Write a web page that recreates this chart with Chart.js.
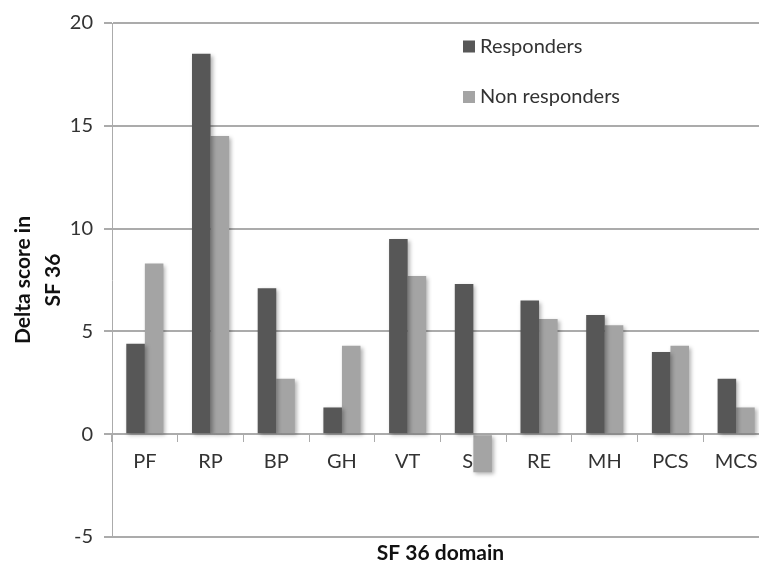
<!DOCTYPE html>
<html>
<head>
<meta charset="utf-8">
<script src="https://cdn.jsdelivr.net/npm/chart.js@4.4.1/dist/chart.umd.min.js"></script>
<style>
  html, body { margin: 0; padding: 0; background: #fff; overflow: hidden; }
  #wrap { width: 759px; height: 566px; position: relative; overflow: hidden; }
</style>
</head>
<body>
<div id="wrap"><canvas id="c" width="770" height="566"></canvas></div>
<script>
const categories = ['PF', 'RP', 'BP', 'GH', 'VT', 'SF', 'RE', 'MH', 'PCS', 'MCS'];
const responders = [4.4, 18.5, 7.1, 1.3, 9.5, 7.3, 6.5, 5.8, 4.0, 2.7];
const nonResponders = [8.3, 14.5, 2.7, 4.3, 7.7, -1.85, 5.6, 5.3, 4.3, 1.3];
const seriesNames = ['Responders', 'Non responders'];
const yTicks = [-5, 0, 5, 10, 15, 20];

const FONT = 'Lato, "Open Sans", sans-serif';
const DARK = '#575757';
const LIGHT = '#a4a4a4';
const GRID = '#ababab';

const shadowPlugin = {
  id: 'shadow',
  beforeDatasetsDraw(chart) {
    const ctx = chart.ctx;
    ctx.save();
    ctx.shadowColor = 'rgba(0,0,0,0.3)';
    ctx.shadowBlur = 4;
    ctx.shadowOffsetX = 2;
    ctx.shadowOffsetY = 2;
  },
  afterDatasetsDraw(chart) {
    chart.ctx.restore();
  }
};

const legendPlugin = {
  id: 'insideLegend',
  afterDraw(chart) {
    const ctx = chart.ctx;
    const area = chart.chartArea;
    const x0 = area.left + 351;
    const ys = [area.top + 23.5, area.top + 74];
    const colors = [DARK, LIGHT];
    ctx.save();
    ctx.font = '20px ' + FONT;
    ctx.textBaseline = 'middle';
    ctx.textAlign = 'left';
    seriesNames.forEach((name, i) => {
      ctx.fillStyle = colors[i];
      ctx.fillRect(x0, ys[i] - 6, 12, 12);
      ctx.fillStyle = '#333';
      ctx.fillText(name, x0 + 17, ys[i]);
    });
    ctx.restore();
  }
};

new Chart(document.getElementById('c'), {
  type: 'bar',
  data: {
    labels: categories,
    datasets: [
      { label: seriesNames[0], data: responders, backgroundColor: DARK, borderWidth: 0,
        categoryPercentage: 0.565, barPercentage: 1.0, xAxisID: 'x' },
      { label: seriesNames[1], data: nonResponders, backgroundColor: LIGHT, borderWidth: 0,
        categoryPercentage: 0.565, barPercentage: 1.0, xAxisID: 'x' }
    ]
  },
  options: {
    responsive: false,
    animation: false,
    devicePixelRatio: 1,
    layout: { padding: { top: 18, right: 1, left: 0, bottom: 0 } },
    plugins: {
      legend: { display: false },
      tooltip: { enabled: false }
    },
    scales: {
      x: {
        type: 'category',
        position: { y: 0 },
        offset: true,
        grid: { display: true, offset: true, drawOnChartArea: false, drawTicks: true, tickLength: 7, color: GRID, lineWidth: 1 },
        border: { display: true, color: GRID, width: 2 },
        ticks: { color: '#333', font: { family: FONT, size: 20 }, padding: 8, maxRotation: 0 }
      },
      x2: {
        type: 'category',
        position: 'bottom',
        labels: categories,
        grid: { display: false, drawTicks: false },
        border: { display: false },
        ticks: { display: false },
        afterFit(scale) { scale.height = 29; },
        title: { display: true, text: 'SF 36 domain', color: '#111', font: { family: FONT, size: 21, weight: 'bold', lineHeight: 1.2 }, padding: { top: 0, bottom: 0 } }
      },
      y: {
        min: -5,
        max: 20,
        afterBuildTicks(scale) { scale.ticks = yTicks.map(v => ({ value: v })); },
        afterFit(scale) { scale.width = 112; },
        grid: { color: GRID, lineWidth: 2, drawTicks: true, tickLength: 8 },
        border: { display: true, color: GRID, width: 1 },
        ticks: { color: '#333', font: { family: FONT, size: 20 }, padding: 11 },
        title: { display: true, text: ['Delta score in', 'SF 36'], color: '#111', font: { family: FONT, size: 21, weight: 'bold', lineHeight: 1.45 }, padding: { top: 8, bottom: 0 } }
      }
    }
  },
  plugins: [shadowPlugin, legendPlugin]
});
</script>
</body>
</html>
